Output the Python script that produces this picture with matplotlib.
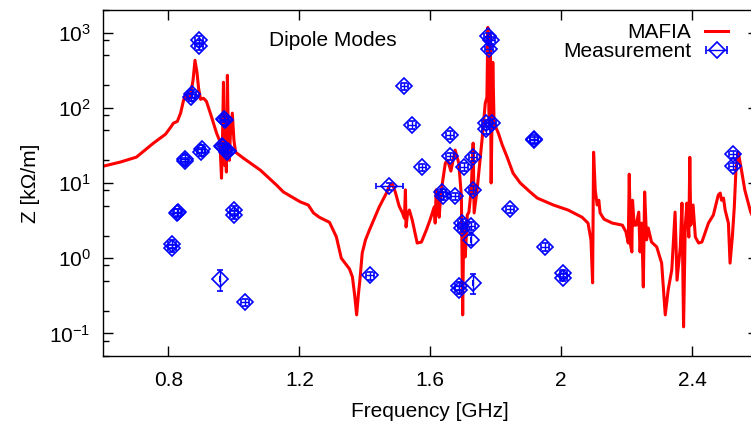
import numpy as np
import matplotlib
matplotlib.use('Agg')
import matplotlib.pyplot as plt
from matplotlib.ticker import LogLocator, NullFormatter

plt.rcParams['font.family'] = ['Liberation Sans', 'DejaVu Sans']
plt.rcParams['mathtext.fontset'] = 'custom'
plt.rcParams['mathtext.rm'] = 'Liberation Sans'
plt.rcParams['axes.unicode_minus'] = False

# MAFIA simulation: frequency [GHz], impedance [kOhm/m]
mafia_f = [0.600, 0.653, 0.702, 0.754, 0.791, 0.809, 0.815, 0.827, 0.837, 0.846,
           0.853, 0.860, 0.867, 0.875, 0.881, 0.887, 0.892, 0.898, 0.907, 0.916,
           0.931, 0.947, 0.957, 0.962, 0.965, 0.968, 0.971, 0.974, 0.977, 0.980,
           0.983, 0.986, 0.989, 0.995, 1.000, 1.005, 1.029, 1.081, 1.130, 1.151,
           1.203, 1.227, 1.243, 1.261, 1.292, 1.313, 1.328, 1.353, 1.362, 1.369,
           1.375, 1.380, 1.385, 1.392, 1.402, 1.414, 1.444, 1.466, 1.475, 1.484,
           1.493, 1.505, 1.515, 1.521, 1.524, 1.526, 1.530, 1.536, 1.545, 1.560,
           1.573, 1.588, 1.600, 1.612, 1.615, 1.618, 1.621, 1.624, 1.627, 1.633,
           1.646, 1.653, 1.663, 1.676, 1.687, 1.695, 1.699, 1.702, 1.707, 1.713,
           1.718, 1.725, 1.731, 1.734, 1.743, 1.758, 1.768, 1.773, 1.776, 1.779,
           1.781, 1.783, 1.786, 1.791, 1.795, 1.808, 1.820, 1.835, 1.853, 1.875,
           1.905, 1.927, 1.976, 2.021, 2.064, 2.082, 2.091, 2.096, 2.099, 2.104,
           2.110, 2.115, 2.119, 2.131, 2.156, 2.187, 2.198, 2.205, 2.208, 2.212,
           2.216, 2.218, 2.223, 2.229, 2.237, 2.241, 2.246, 2.251, 2.255, 2.261,
           2.266, 2.276, 2.292, 2.307, 2.318, 2.327, 2.338, 2.348, 2.354, 2.364,
           2.369, 2.374, 2.379, 2.384, 2.390, 2.393, 2.396, 2.403, 2.410, 2.420,
           2.430, 2.450, 2.465, 2.480, 2.486, 2.490, 2.496, 2.501, 2.511, 2.516,
           2.523, 2.529, 2.534, 2.541, 2.551, 2.561, 2.579, 2.598]
mafia_z = [16.7, 19.0, 22.1, 33.9, 44.6, 57, 62.5, 66, 85, 126,
           152, 130, 147, 232, 429, 297, 182, 130, 134, 122,
           77, 46, 36, 11.6, 37, 219, 17.3, 27, 14, 271,
           37, 20, 43, 85, 37, 25.7, 21.4, 14.8, 9.4, 7.6,
           5.6, 5.1, 4.0, 3.5, 3.0, 1.92, 1.0, 0.72, 0.565, 0.32,
           0.176, 0.32, 0.515, 1.17, 1.75, 2.37, 4.8, 7.35, 9.1, 9.7,
           7.6, 4.9, 4.0, 3.4, 8.1, 2.6, 3.75, 4.37, 3.2, 1.59,
           1.64, 2.37, 3.3, 4.8, 2.93, 8.1, 3.85, 6.9, 3.5, 7.6,
           18.4, 20.1, 14.4, 27.4, 18.4, 6.7, 0.176, 2.37, 1.04, 3.75,
           4.1, 8.1, 33.9, 4.0, 8.1, 37, 115, 138, 1175, 93,
           55, 920, 10, 404, 62.5, 46, 32, 22, 13.5, 10,
           7.6, 6.3, 5.1, 4.37, 3.5, 2.93, 1.75, 0.47, 25.7, 8.1,
           5.1, 5.9, 4.0, 3.3, 2.93, 2.75, 2.23, 1.59, 13.1, 1.5,
           1.21, 5.9, 2.75, 2.75, 4.1, 1.21, 2.93, 0.414, 7.6, 1.75,
           2.52, 1.64, 1.41, 0.86, 0.176, 0.38, 0.70, 4.1, 0.51, 1.41,
           5.4, 0.122, 2.6, 5.4, 1.91, 22, 2.75, 5.1, 1.91, 1.59,
           1.64, 2.93, 3.75, 6.9, 7.35, 5.9, 6.3, 4.37, 2.93, 0.86,
           1.91, 4.8, 14.8, 25.7, 14.8, 8.1, 4.1, 2.75]

# Measurement: frequency [GHz], impedance [kOhm/m], errors
meas_f = [0.811, 0.811, 0.827, 0.829, 0.849, 0.851, 0.870, 0.873, 0.894, 0.894,
          0.899, 0.901, 0.958, 0.963, 0.968, 0.969, 0.973, 0.979, 0.983, 1.000,
          1.000, 1.033, 1.417, 1.475, 1.521, 1.545, 1.576, 1.636, 1.638, 1.659,
          1.659, 1.676, 1.689, 1.689, 1.697, 1.697, 1.704, 1.724, 1.724, 1.729,
          1.731, 1.732, 1.770, 1.770, 1.775, 1.780, 1.785, 1.790, 1.844, 1.917,
          1.917, 1.951, 2.007, 2.007, 2.525, 2.525]
meas_z = [1.35, 1.55, 4.0, 4.1, 19.5, 21.0, 140, 155, 800, 660,
          26.0, 28.5, 0.53, 31, 30, 72, 68, 26, 27, 4.4,
          3.8, 0.26, 0.59, 9.1, 195, 60, 16.1, 7.5, 6.8, 44,
          22.8, 6.7, 0.43, 0.38, 2.96, 2.5, 16.4, 2.7, 1.75, 8.1,
          22.3, 0.47, 62, 51.5, 893, 614, 790, 63, 4.45, 39,
          37, 1.42, 0.63, 0.55, 24.2, 16.8]
meas_df = [0.012, 0.012, 0.012, 0.012, 0.012, 0.012, 0.012, 0.012, 0.012, 0.012,
           0.012, 0.012, 0.0, 0.012, 0.012, 0.012, 0.012, 0.012, 0.012, 0.012,
           0.012, 0.012, 0.012, 0.042, 0.012, 0.012, 0.012, 0.012, 0.012, 0.012,
           0.012, 0.012, 0.012, 0.012, 0.012, 0.012, 0.012, 0.012, 0.0, 0.012,
           0.012, 0.0, 0.012, 0.012, 0.012, 0.012, 0.012, 0.012, 0.012, 0.012,
           0.012, 0.012, 0.012, 0.012, 0.012, 0.012]
meas_dz_lo = [0.15, 0.18, 0.45, 0.45, 2.2, 2.4, 16, 18, 90, 75,
              3.0, 3.2, 0.16, 3.5, 3.4, 8, 8, 3.0, 3.0, 0.5,
              0.45, 0.03, 0.07, 1.0, 22, 7, 1.8, 0.85, 0.8, 5,
              2.6, 0.75, 0.05, 0.045, 0.34, 0.3, 1.9, 0.3, 0.25, 0.9,
              2.5, 0.135, 7, 6, 100, 70, 90, 7, 0.5, 4.5,
              4.2, 0.16, 0.07, 0.06, 2.8, 1.9]
meas_dz_hi = [0.15, 0.18, 0.45, 0.45, 2.2, 2.4, 16, 18, 90, 75,
              3.0, 3.2, 0.17, 3.5, 3.4, 8, 8, 3.0, 3.0, 0.5,
              0.45, 0.03, 0.07, 1.0, 22, 7, 1.8, 0.85, 0.8, 5,
              2.6, 0.75, 0.05, 0.045, 0.34, 0.3, 1.9, 0.3, 0.3, 0.9,
              2.5, 0.14, 7, 6, 100, 70, 90, 7, 0.5, 4.5,
              4.2, 0.16, 0.07, 0.06, 2.8, 1.9]

xticks = [0.8, 1.2, 1.6, 2.0, 2.4]
xtick_labels = ['0.8', '1.2', '1.6', '2', '2.4']

FS = 15

fig = plt.figure(figsize=(7.51, 4.25), dpi=100)
ax = fig.add_axes([0.1372, 0.1624, 0.8715, 0.814])

line, = ax.plot(mafia_f, mafia_z, color='red', lw=2.2, label='MAFIA', zorder=2)
ax.errorbar(meas_f, meas_z, xerr=meas_df, yerr=[meas_dz_lo, meas_dz_hi],
            fmt='D', ms=8, mfc='none', mec='blue', mew=1.2, ecolor='blue',
            elinewidth=1, capsize=2, zorder=3)
# legend proxy (gnuplot shows horizontal bar only)
proxy = ax.errorbar([np.nan], [np.nan], xerr=[0.01], fmt='D', ms=8, mfc='none',
                    mec='blue', mew=1.2, ecolor='blue', elinewidth=1, capsize=3,
                    label='Measurement')

ax.set_yscale('log')
ax.set_xlim(0.6, 2.6)
ax.set_ylim(0.05, 2000)
ax.set_xticks(xticks)
ax.set_xticklabels(xtick_labels)
ax.yaxis.set_major_locator(LogLocator(base=10, numticks=20))
ax.yaxis.set_minor_locator(LogLocator(base=10, subs=(2, 5, 8), numticks=20))
ax.yaxis.set_minor_formatter(NullFormatter())
ax.xaxis.set_minor_locator(plt.NullLocator())
ax.tick_params(which='both', direction='in', top=True, right=True, labelsize=FS)
ax.tick_params(which='major', length=7, width=1)
ax.tick_params(which='minor', length=4, width=1)
ax.tick_params(axis='x', pad=11)
ax.tick_params(axis='y', pad=9)
for s in ax.spines.values():
    s.set_linewidth(1.0)

ax.set_xlabel('Frequency [GHz]', fontsize=FS)
ax.set_ylabel('Z [k\u03a9/m]', fontsize=FS)
ax.xaxis.set_label_coords(0.5, -0.133)
ax.yaxis.set_label_coords(-0.096, 0.5)

ax.text(0.351, 0.913, 'Dipole Modes', transform=ax.transAxes, ha='center',
        va='center', fontsize=FS)

ax.legend(handles=[line, proxy], loc='upper right', bbox_to_anchor=(0.955, 0.962),
          frameon=False, markerfirst=False, handlelength=1.1, fontsize=FS,
          borderaxespad=0, borderpad=0, labelspacing=0.0, handletextpad=0.67)

fig.savefig('out.png', dpi=100)
